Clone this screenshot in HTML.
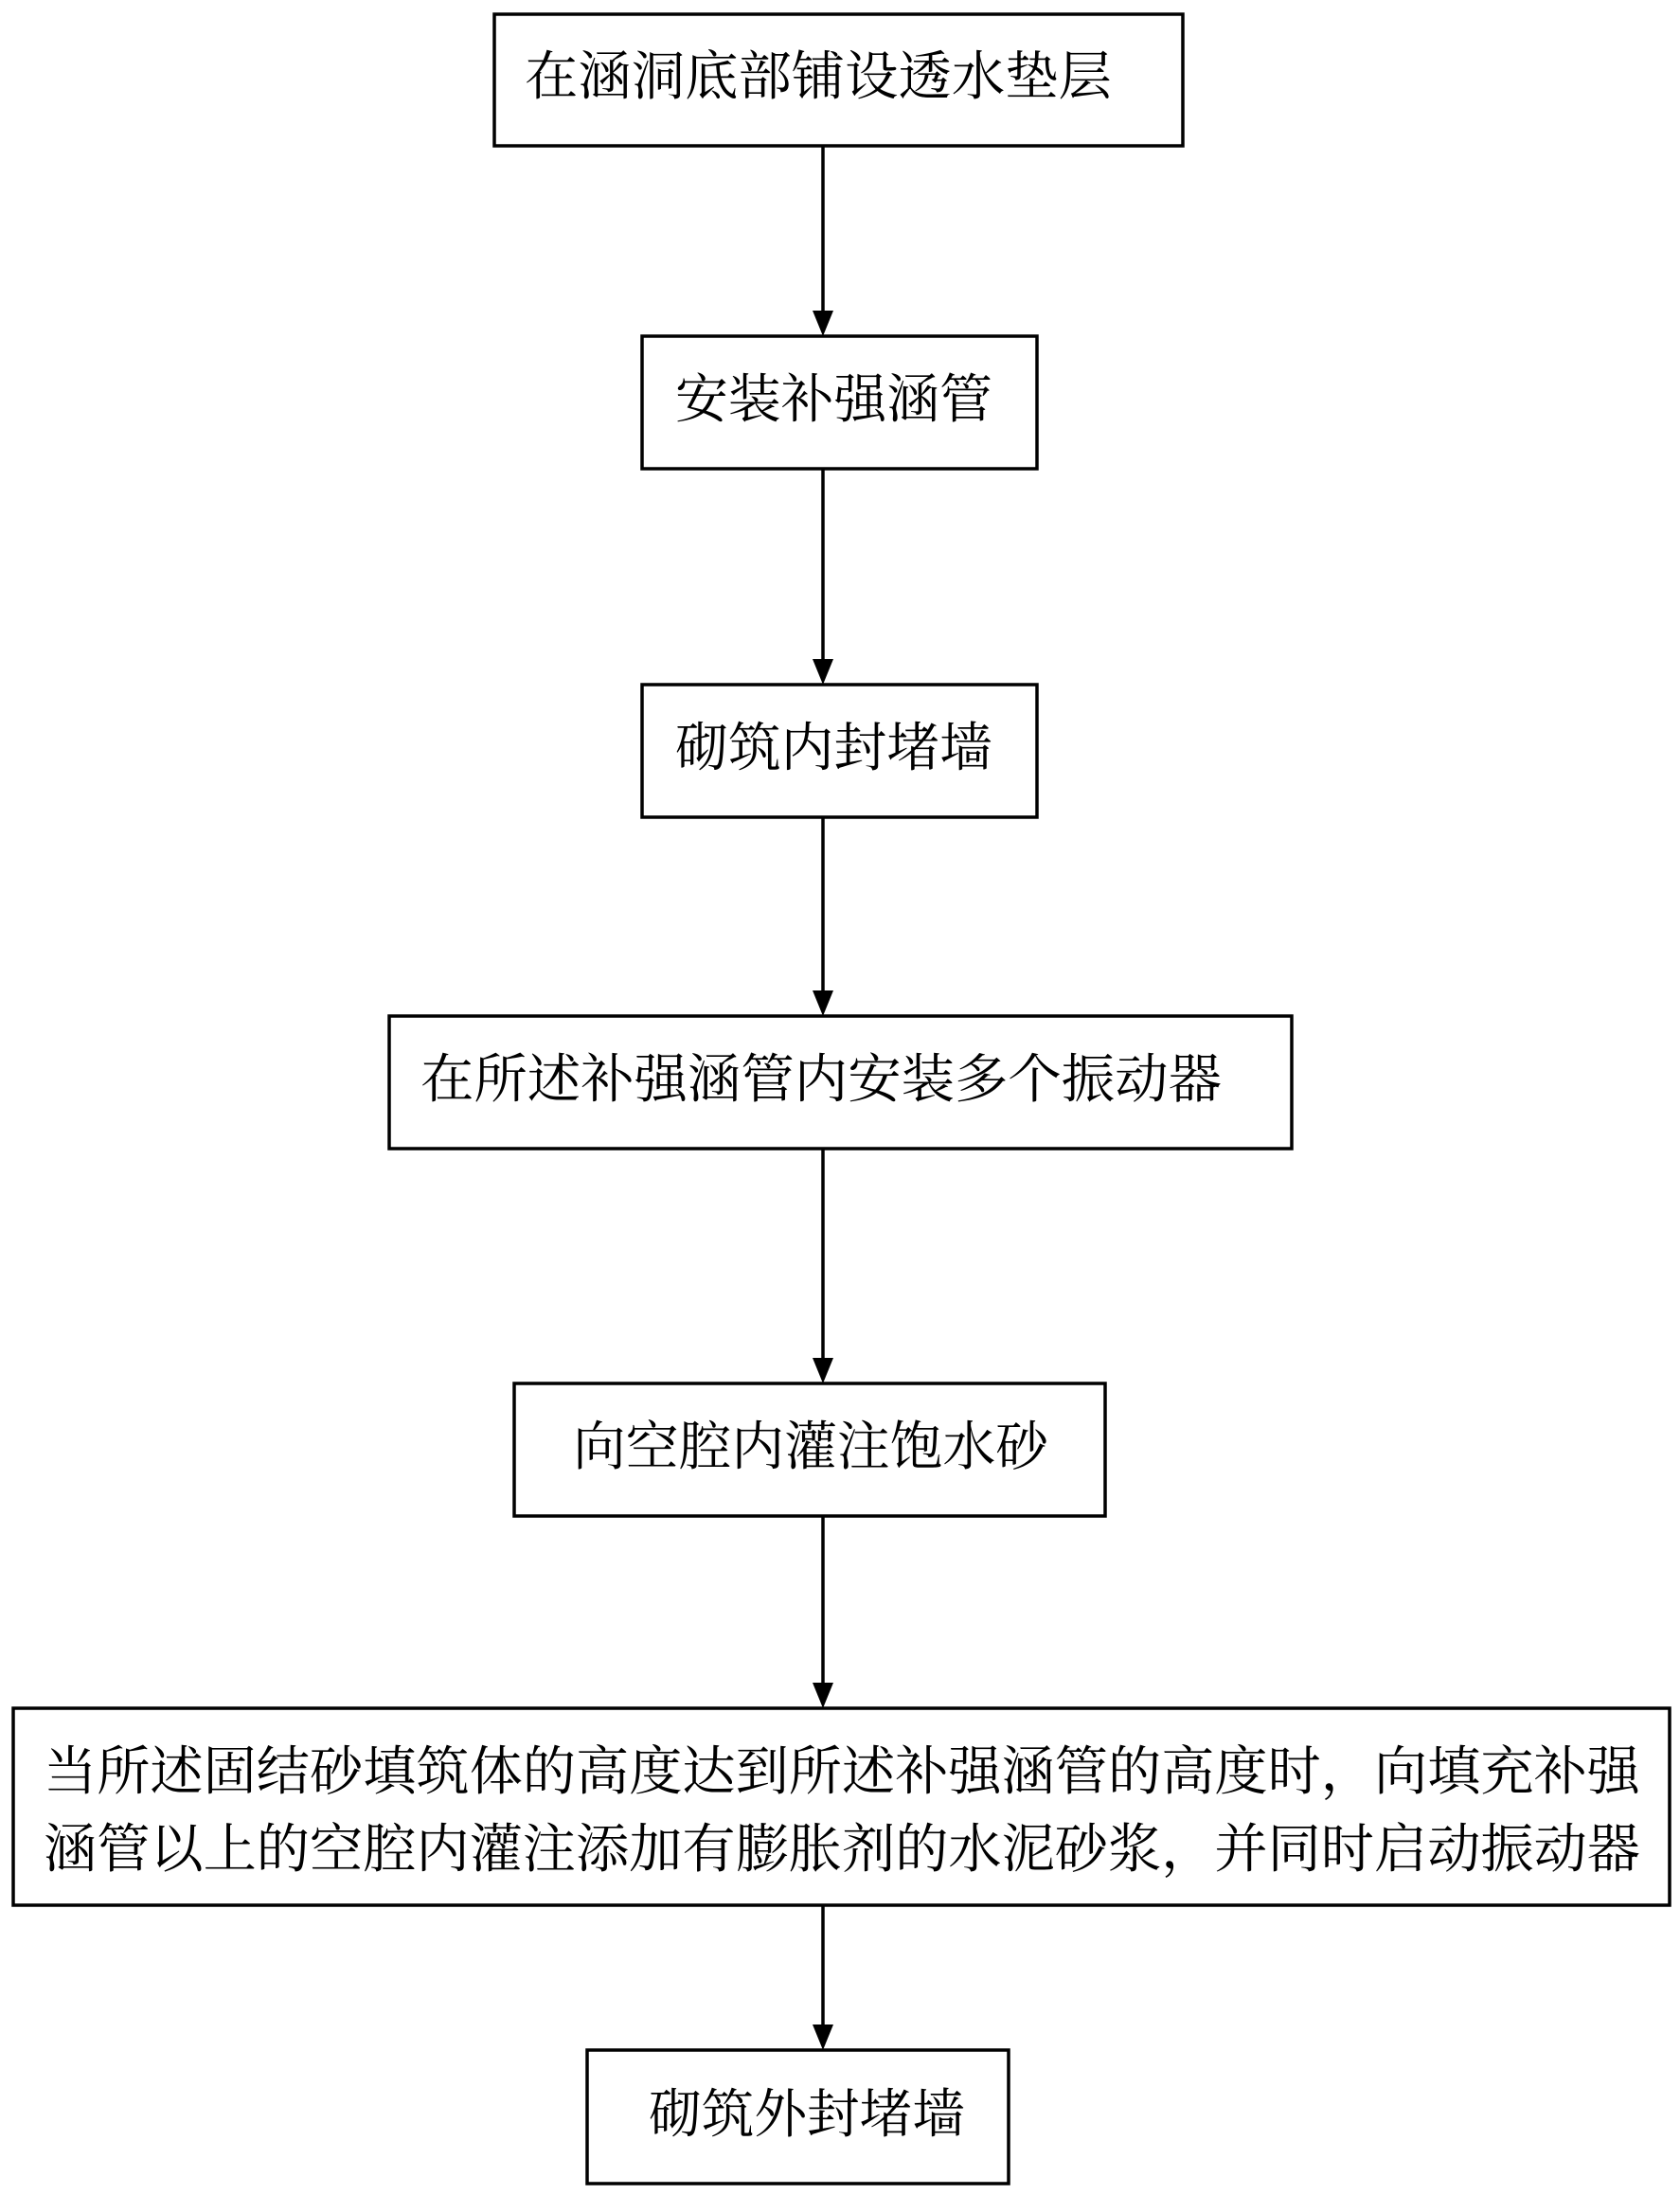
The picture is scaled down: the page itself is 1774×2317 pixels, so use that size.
<!DOCTYPE html>
<html><head><meta charset="utf-8"><style>
html,body{margin:0;padding:0;background:#fff}
svg{display:block}
text{font-family:"Liberation Serif","Noto Serif CJK SC",serif;fill:#000;dominant-baseline:central}
</style></head><body>
<svg width="1774" height="2317" viewBox="0 0 1774 2317" xmlns="http://www.w3.org/2000/svg">
<g fill="none" stroke="#000" stroke-width="3.5">
<rect x="522" y="15" width="727" height="139"/>
<rect x="678" y="355" width="417" height="140"/>
<rect x="678" y="723" width="417" height="140"/>
<rect x="411" y="1073" width="953" height="140"/>
<rect x="543" y="1461" width="624" height="140"/>
<rect x="14" y="1804" width="1749" height="208"/>
<rect x="620" y="2165" width="445" height="141"/>
<line x1="869" y1="154" x2="869" y2="330"/>
<line x1="869" y1="495" x2="869" y2="698"/>
<line x1="869" y1="863" x2="869" y2="1048"/>
<line x1="869" y1="1213" x2="869" y2="1436"/>
<line x1="869" y1="1601" x2="869" y2="1779"/>
<line x1="869" y1="2012" x2="869" y2="2140"/>
</g>
<g fill="#000">
<polygon points="858,328 880,328 869,355"/>
<polygon points="858,696 880,696 869,723"/>
<polygon points="858,1046 880,1046 869,1073"/>
<polygon points="858,1434 880,1434 869,1461"/>
<polygon points="858,1777 880,1777 869,1804"/>
<polygon points="858,2138 880,2138 869,2165"/>
</g>
<g font-size="56">
<text x="554" y="82" textLength="620" lengthAdjust="spacingAndGlyphs">在涵洞底部铺设透水垫层</text>
<text x="713" y="423" textLength="335" lengthAdjust="spacingAndGlyphs">安装补强涵管</text>
<text x="713" y="791" textLength="335" lengthAdjust="spacingAndGlyphs">砌筑内封堵墙</text>
<text x="444" y="1141" textLength="846" lengthAdjust="spacingAndGlyphs">在所述补强涵管内安装多个振动器</text>
<text x="605" y="1529" textLength="502" lengthAdjust="spacingAndGlyphs">向空腔内灌注饱水砂</text>
<text x="46" y="1872" textLength="1686" lengthAdjust="spacingAndGlyphs">当所述固结砂填筑体的高度达到所述补强涵管的高度时，向填充补强</text>
<text x="46" y="1954" textLength="1686" lengthAdjust="spacingAndGlyphs">涵管以上的空腔内灌注添加有膨胀剂的水泥砂浆，并同时启动振动器</text>
<text x="685" y="2234" textLength="334" lengthAdjust="spacingAndGlyphs">砌筑外封堵墙</text>
</g>
</svg>
</body></html>
